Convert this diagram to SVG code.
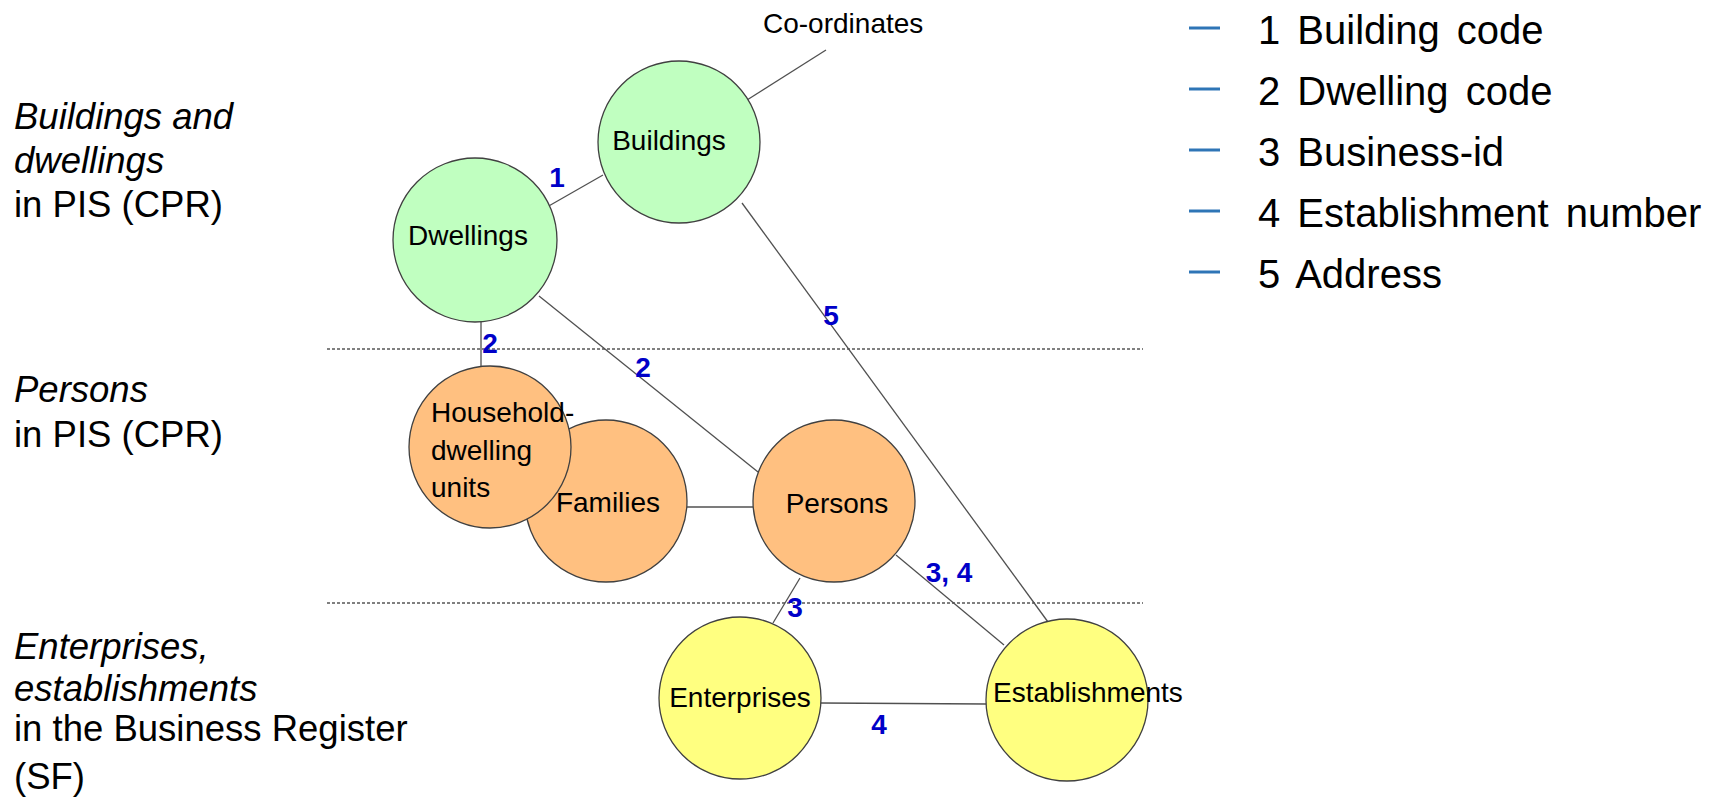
<svg xmlns="http://www.w3.org/2000/svg" width="1713" height="799" viewBox="0 0 1713 799">
<style>
text{font-family:"Liberation Sans",Arial,sans-serif;fill:#000}
.node{stroke:#404040;stroke-width:1.3}
.g{fill:#C0FFC0}.o{fill:#FFC080}.y{fill:#FFFF80}
.nt{font-size:28px}
.lbl{font-size:28px;font-weight:bold;fill:#0000C8;text-anchor:middle}
.conn line{stroke:#505050;stroke-width:1.3}
.sep{stroke:#000;stroke-width:1;stroke-dasharray:3 2}
.side{font-size:36.5px}
.leg{font-size:40px;word-spacing:6px}
.dash{stroke:#2E75B6;stroke-width:3}
</style>
<g id="separators">
<line class="sep" x1="327" y1="349" x2="1143" y2="349"/>
<line class="sep" x1="327" y1="603" x2="1143" y2="603"/>
</g>
<g id="side-labels" class="side">
<text x="14" y="129"><tspan font-style="italic">Buildings and</tspan></text>
<text x="14" y="173"><tspan font-style="italic">dwellings</tspan></text>
<text x="14" y="217">in PIS (CPR)</text>
<text x="14" y="402"><tspan font-style="italic">Persons</tspan></text>
<text x="14" y="447">in PIS (CPR)</text>
<text x="14" y="659"><tspan font-style="italic">Enterprises,</tspan></text>
<text x="14" y="701"><tspan font-style="italic">establishments</tspan></text>
<text x="14" y="741">in the Business Register</text>
<text x="14" y="789">(SF)</text>
</g>
<g id="connectors" class="conn">
<line x1="747" y1="100" x2="826" y2="50"/>
<line x1="547" y1="207" x2="603" y2="175"/>
<line x1="742" y1="203" x2="1048" y2="622"/>
<line x1="539" y1="296" x2="758" y2="472"/>
<line x1="481" y1="321" x2="481" y2="366"/>
<line x1="687" y1="507" x2="753" y2="507"/>
<line x1="800" y1="578" x2="773" y2="623"/>
<line x1="896" y1="555" x2="1004" y2="645"/>
<line x1="821" y1="703" x2="986" y2="704"/>
</g>
<g id="coordinates"><text x="763" y="33" font-size="28">Co-ordinates</text></g>
<g id="buildings"><circle class="node g" cx="679" cy="142" r="81"/><text class="nt" x="669" y="150" text-anchor="middle">Buildings</text></g>
<g id="dwellings"><circle class="node g" cx="475" cy="240" r="82"/><text class="nt" x="468" y="245" text-anchor="middle">Dwellings</text></g>
<g id="families"><circle class="node o" cx="606" cy="501" r="81"/><text class="nt" x="608" y="512" text-anchor="middle">Families</text></g>
<g id="household"><circle class="node o" cx="490" cy="447" r="81"/><text class="nt" x="431" y="422">Household-</text><text class="nt" x="431" y="460">dwelling</text><text class="nt" x="431" y="497">units</text></g>
<g id="persons"><circle class="node o" cx="834" cy="501" r="81"/><text class="nt" x="837" y="513" text-anchor="middle">Persons</text></g>
<g id="enterprises"><circle class="node y" cx="740" cy="698" r="81"/><text class="nt" x="740" y="707" text-anchor="middle" font-size="29">Enterprises</text></g>
<g id="establishments"><circle class="node y" cx="1067" cy="700" r="81"/><text class="nt" x="993" y="702">Establishments</text></g>
<g id="link-labels">
<text class="lbl" x="557" y="187">1</text>
<text class="lbl" x="831" y="325">5</text>
<text class="lbl" x="490" y="353">2</text>
<text class="lbl" x="643" y="377">2</text>
<text class="lbl" x="949" y="582">3, 4</text>
<text class="lbl" x="795" y="617">3</text>
<text class="lbl" x="879" y="734">4</text>
</g>
<g id="legend">
<line class="dash" x1="1189" y1="28" x2="1220" y2="28"/>
<line class="dash" x1="1189" y1="89" x2="1220" y2="89"/>
<line class="dash" x1="1189" y1="150" x2="1220" y2="150"/>
<line class="dash" x1="1189" y1="211" x2="1220" y2="211"/>
<line class="dash" x1="1189" y1="272" x2="1220" y2="272"/>
<text class="leg" x="1258" y="44">1 Building code</text>
<text class="leg" x="1258" y="105">2 Dwelling code</text>
<text class="leg" x="1258" y="166">3 Business-id</text>
<text class="leg" x="1258" y="227" word-spacing="8">4 Establishment number</text>
<text class="leg" x="1258" y="288">5 Address</text>
</g>
</svg>
